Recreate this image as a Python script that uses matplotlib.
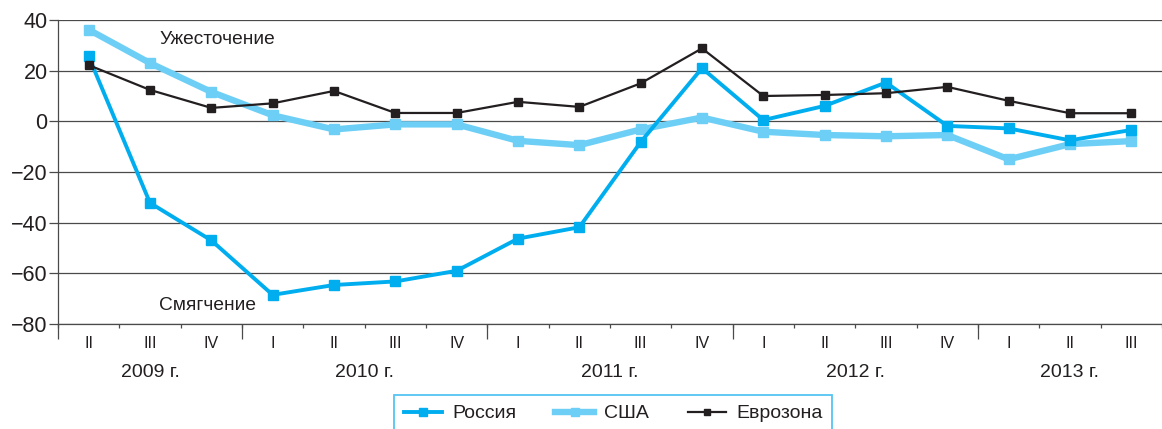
import matplotlib
matplotlib.use("Agg")
import matplotlib.pyplot as plt
from matplotlib import font_manager
import numpy as np

# ---- data ----
quarters = ["II", "III", "IV",
            "I", "II", "III", "IV",
            "I", "II", "III", "IV",
            "I", "II", "III", "IV",
            "I", "II", "III"]
years = ["2009 г.", "2010 г.", "2011 г.", "2012 г.", "2013 г."]
year_sizes = [3, 4, 4, 4, 3]

russia = [25.6, -32.2, -47.0, -68.5, -64.6, -63.2, -59.0, -46.3, -41.8,
          -8.2, 21.0, 0.5, 6.1, 15.3, -1.8, -2.8, -7.5, -3.4]
usa = [36.2, 23.0, 11.6, 2.4, -3.2, -1.2, -1.2, -7.7, -9.4,
       -3.2, 1.5, -4.1, -5.4, -5.9, -5.4, -15.0, -9.0, -7.8]
eurozone = [22.2, 12.4, 5.3, 7.1, 12.0, 3.3, 3.3, 7.7, 5.7,
            15.0, 28.8, 10.0, 10.4, 11.1, 13.6, 8.1, 3.2, 3.2]

series_names = ["Россия", "США", "Еврозона"]
y_ticks = [40, 20, 0, -20, -40, -60, -80]

# ---- style ----
names = {f.name for f in font_manager.fontManager.ttflist}
base = "Liberation Sans" if "Liberation Sans" in names else "DejaVu Sans"
narrow = "Liberation Sans Narrow" if "Liberation Sans Narrow" in names else base
plt.rcParams['font.family'] = [base, 'DejaVu Sans']

C_RU = "#00aeef"
C_US = "#6dcff6"
C_EU = "#231f20"
GRID = "#4a4a4a"
TXT = "#231f20"

W, H = 1162, 429
fig = plt.figure(figsize=(W / 100, H / 100), dpi=100)
ax = fig.add_axes([58 / W, 1 - 324 / H, 1 - 58 / W, (324 - 20) / H])

x = np.arange(len(quarters))
ax.plot(x, usa, color=C_US, lw=4.6, marker="s", ms=7.8, zorder=3,
        label=series_names[1])
ax.plot(x, russia, color=C_RU, lw=2.8, marker="s", ms=7.5, zorder=4,
        label=series_names[0])
ax.plot(x, eurozone, color=C_EU, lw=1.6, marker="s", ms=5.6, zorder=5,
        label=series_names[2])

ax.set_xlim(-0.5, 17.33)
ax.set_ylim(-80, 40)

# y axis
ax.set_yticks(y_ticks)
ax.set_yticklabels([f"{v}".replace("-", "\u2212") for v in y_ticks],
                   fontsize=15.5, color=TXT)
ax.tick_params(axis="y", length=6.5, width=0.9, color=GRID, pad=1)
ax.grid(axis="y", color=GRID, lw=0.9, zorder=1)

for s in ["top", "right"]:
    ax.spines[s].set_visible(False)
ax.spines["left"].set_color(GRID)
ax.spines["left"].set_linewidth(0.9)
ax.spines["bottom"].set_color(GRID)
ax.spines["bottom"].set_linewidth(0.9)

# x axis: quarter labels at centres, boundaries as minor ticks
ax.set_xticks(x)
ax.set_xticklabels(quarters, fontsize=11.5, color=TXT, family=narrow)
ax.tick_params(axis="x", which="major", length=0, pad=9)
bounds = np.arange(-0.5, len(quarters), 1.0)
ax.set_xticks(bounds, minor=True)
ax.tick_params(axis="x", which="minor", length=3, width=0.9, color=GRID)

# year boundaries (long ticks) and year labels
ends = np.cumsum(year_sizes)
starts = ends - np.array(year_sizes)
year_bounds = np.concatenate([[-0.5], ends[:-1] - 0.5])
year_centres = (starts + ends - 1) / 2.0

sec = ax.secondary_xaxis("bottom")
sec.set_xticks(year_bounds)
sec.set_xticklabels([""] * len(year_bounds))
sec.tick_params(length=11, width=0.9, color=GRID)
sec.spines["bottom"].set_visible(False)

sec2 = ax.secondary_xaxis("bottom")
sec2.set_xticks(year_centres)
sec2.set_xticklabels(years, fontsize=14, color=TXT, family=narrow)
sec2.tick_params(length=0, pad=29)
sec2.spines["bottom"].set_visible(False)

# annotations
ax.text(1.15, 32.5, "Ужесточение", fontsize=13.8, color=TXT, va="center", ha="left")
ax.text(1.15, -72.8, "Смягчение", fontsize=13.8, color=TXT, va="center", ha="left")

# legend
h, l = ax.get_legend_handles_labels()
order = [1, 0, 2]
leg = fig.legend([h[i] for i in order], [l[i] for i in order],
                 loc="upper center", bbox_to_anchor=(613 / W, 1 - 395 / H),
                 ncol=3, frameon=True, fancybox=False, fontsize=14,
                 handlelength=2.0, columnspacing=2.0, handletextpad=0.5,
                 borderpad=0.5, markerscale=0.75, borderaxespad=0)
leg.get_frame().set_edgecolor("#29b6f0")
leg.get_frame().set_linewidth(1.3)
for t in leg.get_texts():
    t.set_color(TXT)

fig.savefig("out.png", dpi=100)
